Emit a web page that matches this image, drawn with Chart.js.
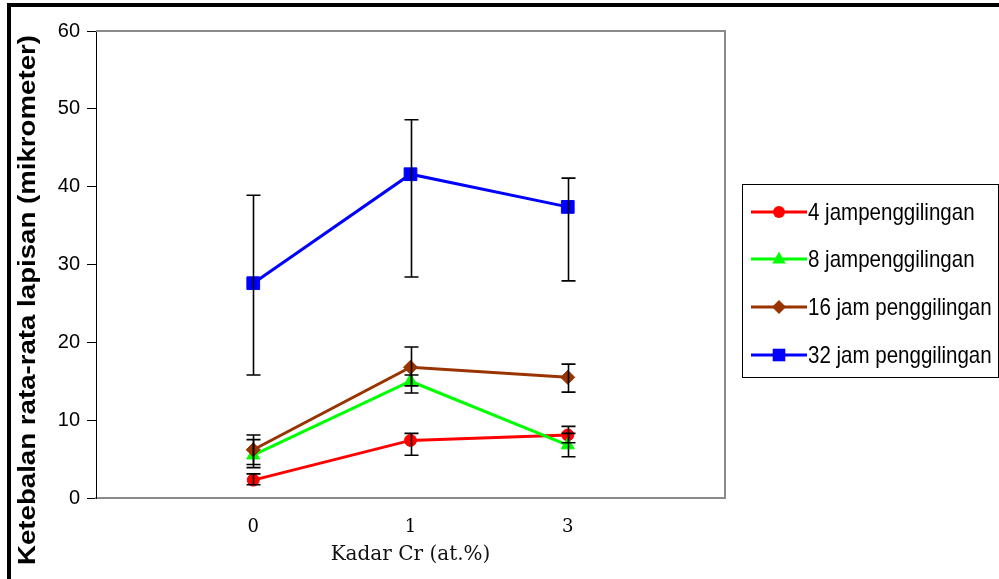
<!DOCTYPE html>
<html><head><meta charset="utf-8">
<script src="https://cdn.jsdelivr.net/npm/chart.js@4.4.1/dist/chart.umd.min.js"></script>
<style>
html,body{margin:0;padding:0;background:#fff;}
#wrap{position:relative;width:999px;height:579px;overflow:hidden;}
canvas{display:block;}
</style></head><body>
<div id="wrap"><canvas id="c" width="999" height="579"></canvas></div>
<script>
// ---- data ----
const categories = ['0', '1', '3'];
const yTickValues = [0, 10, 20, 30, 40, 50, 60];
const seriesNames = ['4 jampenggilingan', '8 jampenggilingan', '16 jam penggilingan', '32 jam penggilingan'];
const jam4 = [2.3, 7.4, 8.1];
const jam4Plus = [0.8, 0.9, 1.1];
const jam4Minus = [0.6, 1.9, 1.0];
const jam8 = [5.5, 15.0, 6.8];
const jam8Plus = [2.0, 0.8, 1.5];
const jam8Minus = [1.6, 1.5, 1.5];
const jam16 = [6.2, 16.8, 15.5];
const jam16Plus = [1.9, 2.6, 1.7];
const jam16Minus = [1.9, 2.4, 1.9];
const jam32 = [27.6, 41.6, 37.4];
const jam32Plus = [11.3, 7.0, 3.7];
const jam32Minus = [11.8, 13.2, 9.5];
const xTitle = 'Kadar Cr (at.%)';
const yTitle = 'Ketebalan rata-rata lapisan (mikrometer)';

// ---- styles ----
const colors = ['#ff0000', '#00ff00', '#993300', '#0000ff'];
const styles = ['circle', 'triangle', 'rectRot', 'rect'];
const radii = [6, 7.5, 7, 9];
const values = [jam4, jam8, jam16, jam32];
const plus = [jam4Plus, jam8Plus, jam16Plus, jam32Plus];
const minus = [jam4Minus, jam8Minus, jam16Minus, jam32Minus];
const SANS = "'Liberation Sans', Arial, sans-serif";
const SERIF = "'DejaVu Serif', 'Liberation Serif', serif";

const datasets = values.map((vals, s) => ({
  label: seriesNames[s],
  data: vals.map((v, i) => ({x: i + 1, y: v})),
  borderColor: colors[s],
  backgroundColor: colors[s],
  borderWidth: 3,
  pointStyle: styles[s],
  pointRadius: radii[s],
  pointBorderWidth: 1,
  pointBackgroundColor: colors[s],
  pointBorderColor: colors[s],
  tension: 0,
  order: 4 - s
}));

const framePlugin = {
  id: 'frame',
  beforeDraw(chart) {
    const ctx = chart.ctx;
    ctx.save();
    ctx.fillStyle = '#000';
    ctx.fillRect(7, 3, 992, 4);
    ctx.fillRect(7, 3, 4, 576);
    ctx.restore();
  },
  afterDraw(chart) {
    const ctx = chart.ctx, a = chart.chartArea;
    ctx.save();
    ctx.strokeStyle = '#8a8a8a';
    ctx.lineWidth = 2;
    ctx.beginPath();
    ctx.moveTo(a.left, a.top);
    ctx.lineTo(a.right, a.top);
    ctx.lineTo(a.right, a.bottom);
    ctx.stroke();
    // y title (horizontally condensed like the original)
    ctx.fillStyle = '#000';
    ctx.font = "bold 24px " + SANS;
    ctx.textAlign = 'center';
    ctx.textBaseline = 'middle';
    ctx.translate(28, 300);
    ctx.rotate(-Math.PI / 2);
    const w = ctx.measureText(yTitle).width;
    ctx.scale(530 / w, 1);
    ctx.fillText(yTitle, 0, 0);
    ctx.restore();
  }
};

const errorPlugin = {
  id: 'errbars',
  afterDatasetsDraw(chart) {
    const ctx = chart.ctx, xs = chart.scales.x, ys = chart.scales.y;
    ctx.save();
    ctx.strokeStyle = '#000';
    ctx.lineWidth = 1.6;
    values.forEach((vals, s) => {
      vals.forEach((v, i) => {
        const x = Math.round(xs.getPixelForValue(i + 1)) + 0.5;
        const yt = ys.getPixelForValue(v + plus[s][i]);
        const yb = ys.getPixelForValue(v - minus[s][i]);
        ctx.beginPath();
        ctx.moveTo(x, yt); ctx.lineTo(x, yb);
        ctx.moveTo(x - 7, yt); ctx.lineTo(x + 7, yt);
        ctx.moveTo(x - 7, yb); ctx.lineTo(x + 7, yb);
        ctx.stroke();
      });
    });
    ctx.restore();
  }
};

function drawMarker(ctx, style, x, y, r, color) {
  ctx.fillStyle = color;
  ctx.beginPath();
  if (style === 'circle') {
    ctx.arc(x, y, r, 0, Math.PI * 2);
  } else if (style === 'triangle') {
    ctx.moveTo(x, y - r); ctx.lineTo(x + r * 0.9, y + r * 0.6); ctx.lineTo(x - r * 0.9, y + r * 0.6); ctx.closePath();
  } else if (style === 'rectRot') {
    ctx.moveTo(x, y - r); ctx.lineTo(x + r, y); ctx.lineTo(x, y + r); ctx.lineTo(x - r, y); ctx.closePath();
  } else {
    ctx.rect(x - r * 0.7, y - r * 0.7, r * 1.4, r * 1.4);
  }
  ctx.fill();
}

const legendPlugin = {
  id: 'customLegend',
  afterDraw(chart) {
    const ctx = chart.ctx;
    ctx.save();
    ctx.strokeStyle = '#000';
    ctx.lineWidth = 1;
    ctx.strokeRect(742.5, 184.5, 256, 193);
    const ys = [212, 259, 307, 355];
    seriesNames.forEach((name, s) => {
      const y = ys[s];
      ctx.strokeStyle = colors[s];
      ctx.lineWidth = 3;
      ctx.beginPath();
      ctx.moveTo(751, y); ctx.lineTo(807, y);
      ctx.stroke();
      drawMarker(ctx, styles[s], 779, y, radii[s], colors[s]);
      ctx.save();
      ctx.fillStyle = '#000';
      ctx.font = "24px " + SANS;
      ctx.textAlign = 'left';
      ctx.textBaseline = 'middle';
      ctx.translate(808, y + 1);
      ctx.scale(0.855, 1);
      ctx.fillText(name, 0, 0);
      ctx.restore();
    });
    ctx.restore();
  }
};

new Chart(document.getElementById('c'), {
  type: 'line',
  data: { datasets },
  options: {
    responsive: false,
    animation: false,
    devicePixelRatio: 1,
    layout: { padding: { top: 31, right: 274, bottom: 0, left: 0 } },
    plugins: { legend: { display: false }, tooltip: { enabled: false } },
    scales: {
      x: {
        type: 'linear',
        min: 0, max: 4,
        afterBuildTicks(scale) { scale.ticks = categories.map((c, i) => ({value: i + 1})); },
        afterFit(scale) { scale.height = 81; },
        grid: { display: false, drawTicks: false },
        border: { color: '#8a8a8a', width: 2 },
        ticks: {
          callback: (v) => categories[v - 1] ?? '',
          color: '#000',
          padding: 19,
          maxRotation: 0,
          font: { family: SERIF, size: 18 }
        },
        title: {
          display: true,
          text: xTitle,
          color: '#111',
          padding: { top: 0, bottom: 12 },
          font: { family: SERIF, size: 20 }
        }
      },
      y: {
        min: 0, max: 60,
        afterBuildTicks(scale) { scale.ticks = yTickValues.map(v => ({value: v})); },
        afterFit(scale) { scale.width = 96; },
        grid: { display: true, drawOnChartArea: false, drawTicks: true, tickLength: 9, color: '#000', lineWidth: 1 },
        border: { color: '#000', width: 1 },
        ticks: {
          color: '#000',
          padding: 7,
          font: { family: SANS, size: 20 }
        }
      }
    }
  },
  plugins: [framePlugin, errorPlugin, legendPlugin]
});
</script>
</body></html>
